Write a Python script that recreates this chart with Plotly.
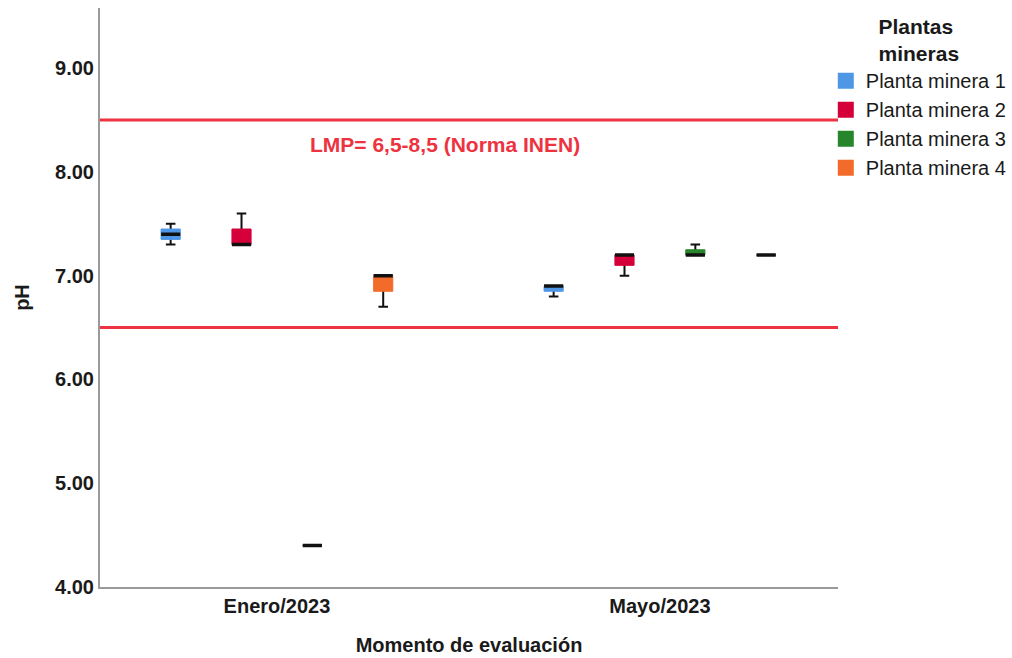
import plotly.graph_objects as go

# pH per plant and sampling month: five-number summaries
months = ["Enero/2023", "Mayo/2023"]
plants = ["Planta minera 1", "Planta minera 2", "Planta minera 3", "Planta minera 4"]
ph_min = [[7.30, 6.80], [7.30, 7.00], [4.40, 7.20], [6.70, 7.20]]
ph_q1 = [[7.35, 6.85], [7.30, 7.10], [4.40, 7.20], [6.85, 7.20]]
ph_median = [[7.40, 6.90], [7.30, 7.20], [4.40, 7.20], [7.00, 7.20]]
ph_q3 = [[7.45, 6.90], [7.45, 7.20], [4.40, 7.25], [7.00, 7.20]]
ph_max = [[7.50, 6.90], [7.60, 7.20], [4.40, 7.30], [7.00, 7.20]]

lmp_low, lmp_high = 6.5, 8.5
lmp_label = "LMP= 6,5-8,5 (Norma INEN)"
y_ticks = [4, 5, 6, 7, 8, 9]

colors = ["#4F97E6", "#D5003A", "#27862C", "#F36B2A"]
limit_red = "#EE3340"
FONT = "Arial, Liberation Sans, sans-serif"

fig = go.Figure()

common = dict(x=months, alignmentgroup="ph", hoverinfo="skip", showlegend=False)

# layer 1: whiskers with caps (black)
for i, name in enumerate(plants):
    fig.add_trace(go.Box(
        **common, name=name, offsetgroup=str(i), legendgroup=name,
        q1=ph_median[i], median=ph_median[i], q3=ph_median[i],
        lowerfence=ph_min[i], upperfence=ph_max[i],
        line=dict(color="#111111", width=2), fillcolor="rgba(0,0,0,0)",
        whiskerwidth=0.5,
    ))

# layer 2: coloured interquartile boxes
for i, name in enumerate(plants):
    fig.add_trace(go.Box(
        **common, name=name, offsetgroup=str(i), legendgroup=name,
        q1=ph_q1[i], median=ph_q1[i], q3=ph_q3[i],
        lowerfence=ph_q1[i], upperfence=ph_q3[i],
        line=dict(color=colors[i], width=1), fillcolor=colors[i],
        whiskerwidth=0,
    ))

# layer 3: median bars (thick black)
for i, name in enumerate(plants):
    fig.add_trace(go.Box(
        **common, name=name, offsetgroup=str(i), legendgroup=name,
        q1=ph_median[i], median=ph_median[i], q3=ph_median[i],
        lowerfence=ph_median[i], upperfence=ph_median[i],
        line=dict(color="#111111", width=3.5), fillcolor="rgba(0,0,0,0)",
        whiskerwidth=0,
    ))

# legend entries: solid colour squares
for i, name in enumerate(plants):
    fig.add_trace(go.Scatter(
        x=[None], y=[None], mode="markers", name=name, legendgroup=name,
        marker=dict(symbol="square", size=18, color=colors[i]),
        showlegend=True, hoverinfo="skip",
    ))

# permissible limits
for yv in (lmp_low, lmp_high):
    fig.add_shape(type="line", xref="paper", x0=0, x1=1, yref="y", y0=yv, y1=yv,
                  line=dict(color=limit_red, width=3))
fig.add_annotation(xref="paper", x=0.467, yref="y", y=8.26, text=lmp_label,
                   showarrow=False, font=dict(family=FONT, size=21, color=limit_red, weight="bold"))

fig.update_layout(
    width=1012, height=658,
    margin=dict(l=100, r=174, t=8, b=71, autoexpand=False),
    paper_bgcolor="white", plot_bgcolor="white",
    boxmode="group", boxgap=0.26, boxgroupgap=0.73,
    font=dict(family=FONT, color="#1a1a1a"),
    showlegend=True,
    legend=dict(
        xref="container", x=0.816, xanchor="left",
        yref="container", y=0.99, yanchor="top",
        title=dict(text="Plantas<br>mineras", side="top center",
                   font=dict(family=FONT, size=21, weight="bold")),
        font=dict(family=FONT, size=20), tracegroupgap=0,
        bgcolor="rgba(0,0,0,0)",
    ),
    xaxis=dict(
        type="category", range=[-0.462, 1.465], automargin=False,
        showline=True, linecolor="#9a9a9a", linewidth=2, showgrid=False, ticks="",
        tickfont=dict(family=FONT, size=20, weight="bold"),
        title=dict(text="Momento de evaluación", standoff=22,
                   font=dict(family=FONT, size=20, weight="bold")),
    ),
    yaxis=dict(
        range=[4, 9.58], tickvals=y_ticks, tickformat=".2f", automargin=False,
        showline=True, linecolor="#9a9a9a", linewidth=2, showgrid=False,
        zeroline=False, ticks="",
        tickfont=dict(family=FONT, size=20, weight="bold"),
        title=dict(text="pH", standoff=20, font=dict(family=FONT, size=20, weight="bold")),
    ),
)

fig.write_html("out.html")
